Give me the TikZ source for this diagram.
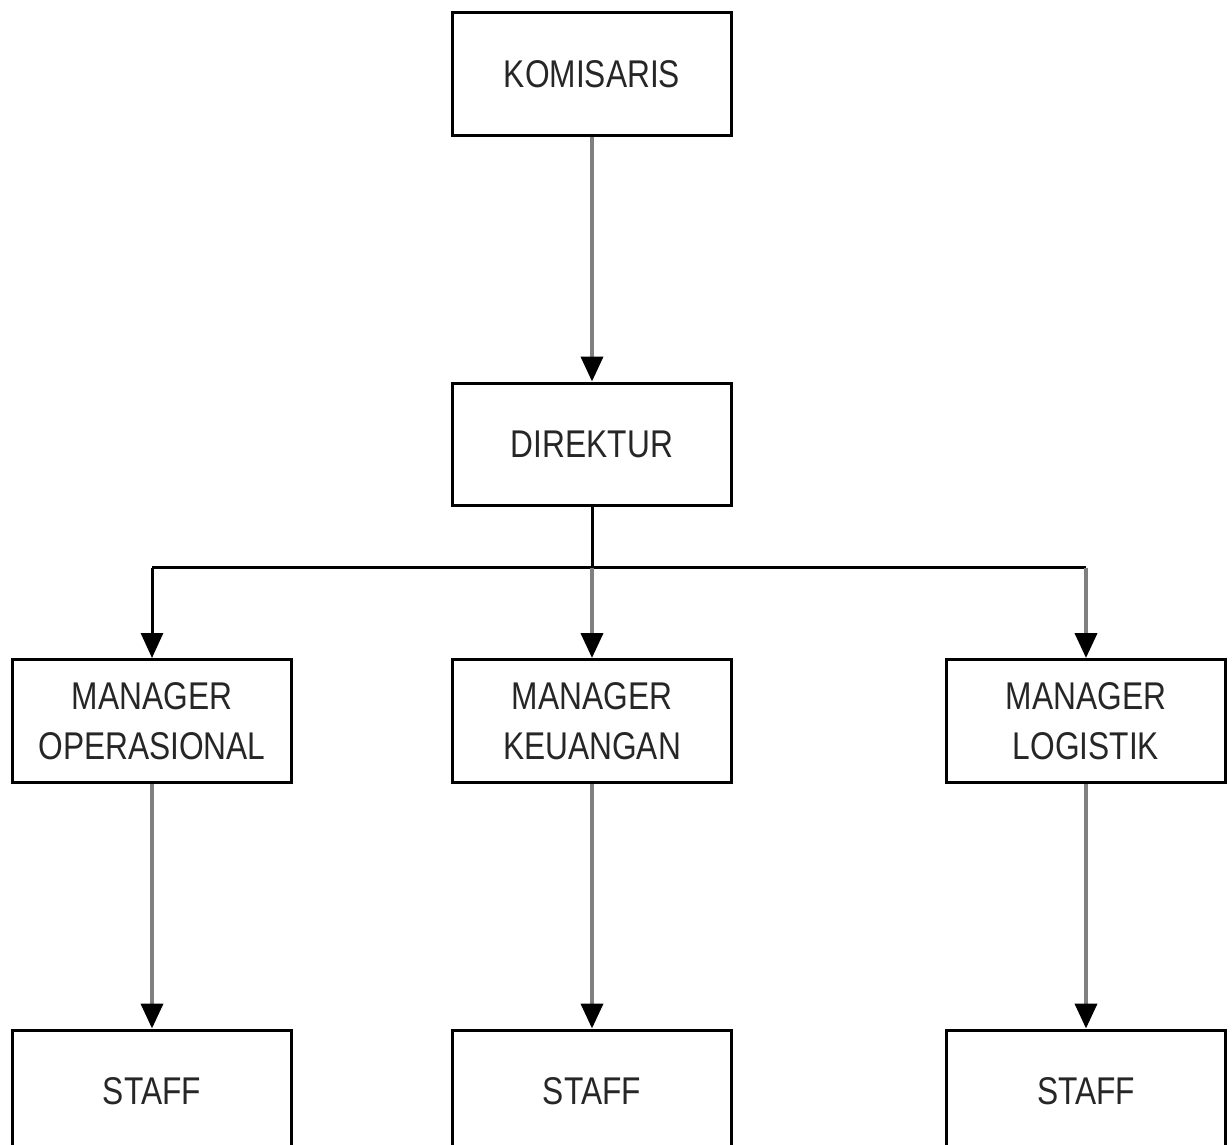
\documentclass[tikz,border=0pt]{standalone}
\usepackage{fontspec}
\setmainfont{Liberation Sans}[FakeStretch=0.82]
\usepackage{tikz}
\usetikzlibrary{arrows.meta}

\tikzset{
  box/.style = {draw, line width = 0.06cm, minimum width = 5.6cm, minimum height = 2.46cm,
                align = center, inner sep = 0pt, text = black!85,
                font = \fontsize{22pt}{28.5pt}\selectfont},
  graylink/.style = {line width = 0.08cm, color = black!50, -{Triangle[width=0.44cm, length=0.5cm, color=black]}},
  blacklink/.style = {line width = 0.06cm, color = black},
}

\begin{document}
\begin{tikzpicture}[x=0.02cm, y=-0.02cm]

\useasboundingbox (0,0) rectangle (1232,1145);

% NODES %%%%%%%%%%%%%%%%%%%%%%%%%%%%%%%%%%%%%%%%%%%%%%%%%%%%%%%%%%%%%%%%%%

\node[box] (K) at (592,74) {KOMISARIS};
\node[box] (D) at (592,444.5) {DIREKTUR};

\node[box] (M1) at (152,721) {MANAGER\\OPERASIONAL};
\node[box] (M2) at (592,721) {MANAGER\\KEUANGAN};
\node[box] (M3) at (1086,721) {MANAGER\\LOGISTIK};

\node[box] (S1) at (152,1091.5) {STAFF};
\node[box] (S2) at (592,1091.5) {STAFF};
\node[box] (S3) at (1086,1091.5) {STAFF};

\coordinate (J1) at (152,568);
\coordinate (J2) at (592,568);
\coordinate (J3) at (1086,568);

% LINKS %%%%%%%%%%%%%%%%%%%%%%%%%%%%%%%%%%%%%%%%%%%%%%%%%%%%%%%%%%%%%%%%%%

\draw[graylink] (K) -- (D);

\draw[blacklink] (D) -- (J2);
\draw[blacklink] (J1) -- (J3);
\draw[blacklink, -{Triangle[width=0.44cm, length=0.5cm]}] (J1) -- (M1);
\draw[graylink] (J2) -- (M2);
\draw[graylink] (J3) -- (M3);

\draw[graylink] (M1) -- (S1);
\draw[graylink] (M2) -- (S2);
\draw[graylink] (M3) -- (S3);

\end{tikzpicture}
\end{document}
